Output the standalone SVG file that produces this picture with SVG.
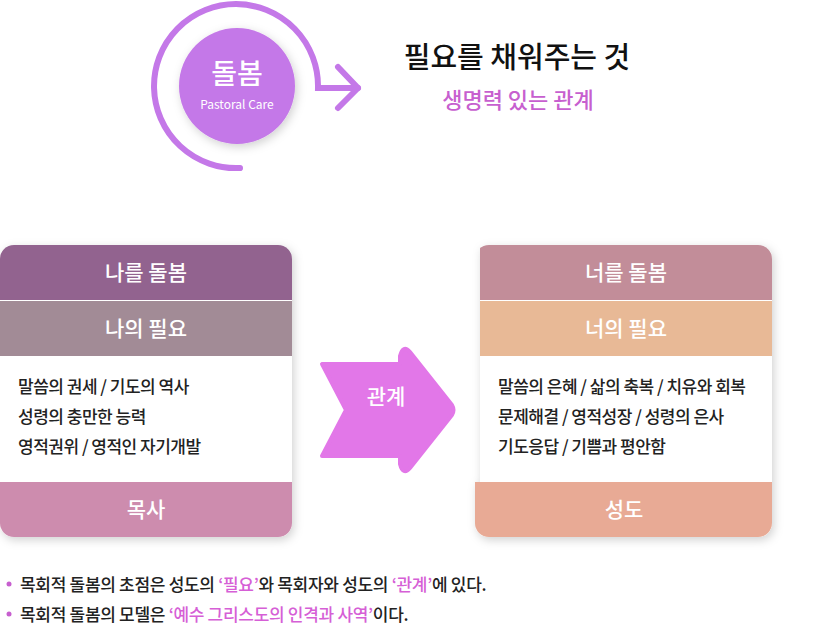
<svg xmlns="http://www.w3.org/2000/svg" width="813" height="628" viewBox="0 0 813 628">
<style>
text{font-family:"Noto Sans CJK KR","Noto Sans",sans-serif}
.h{fill:#fff;font-size:21px;font-weight:500;text-anchor:middle}
.b{fill:#222;font-size:17px;font-weight:500;letter-spacing:-0.5px}
.f{fill:#222;font-size:17px;font-weight:500;letter-spacing:-0.3px}
.p{fill:#d65fd6}
</style>
<defs>
<filter id="sh" x="-10%" y="-10%" width="120%" height="120%"><feDropShadow dx="2" dy="3" stdDeviation="5" flood-opacity="0.18"/></filter>
<clipPath id="cl"><rect x="0" y="245" width="292" height="292" rx="14"/></clipPath>
<clipPath id="cr"><rect x="475" y="245" width="297" height="292" rx="14"/></clipPath>
</defs>
<g id="care">
<path d="M240,168 A82,82 0 1,1 318,88 L358,88" fill="none" stroke="#c478e8" stroke-width="6" stroke-linecap="round"/>
<path d="M338,67 L358,88 L338,108" fill="none" stroke="#c478e8" stroke-width="6" stroke-linecap="round" stroke-linejoin="round"/>
<circle cx="237" cy="86" r="58" fill="#c478e8" filter="url(#sh)"/>
<text x="237" y="84" class="h" style="font-size:28px">돌봄</text>
<text x="237" y="109" style="fill:#fff;font-size:12px;text-anchor:middle">Pastoral Care</text>
</g>
<g id="title">
<text x="517" y="68" style="font-size:29px;font-weight:500;fill:#111;text-anchor:middle">필요를 채워주는 것</text>
<text x="518" y="108" style="font-size:22px;font-weight:500;fill:#c75fcf;text-anchor:middle">생명력 있는 관계</text>
</g>
<g id="left" filter="url(#sh)">
<g clip-path="url(#cl)">
<rect x="0" y="245" width="292" height="292" fill="#fff"/>
<rect x="0" y="245" width="292" height="55" fill="#92648f"/>
<rect x="0" y="301" width="292" height="55" fill="#a28b96"/>
<rect x="0" y="482" width="292" height="55" fill="#cd8cae"/>
</g>
</g>
<text x="146" y="280" class="h">나를 돌봄</text>
<text x="146" y="336" class="h">나의 필요</text>
<text x="18" y="393" class="b">말씀의 권세 / 기도의 역사</text>
<text x="18" y="423" class="b">성령의 충만한 능력</text>
<text x="18" y="453" class="b">영적권위 / 영적인 자기개발</text>
<text x="146" y="517" class="h">목사</text>
<g id="right" filter="url(#sh)">
<g clip-path="url(#cr)">
<rect x="480" y="245" width="292" height="292" fill="#fff"/>
<rect x="480" y="245" width="292" height="55" fill="#c28d99"/>
<rect x="480" y="301" width="292" height="55" fill="#e8b996"/>
<rect x="475" y="482" width="297" height="55" fill="#e8aa95"/>
</g>
</g>
<text x="626" y="280" class="h">너를 돌봄</text>
<text x="626" y="336" class="h">너의 필요</text>
<text x="498" y="393" class="b">말씀의 은혜 / 삶의 축복 / 치유와 회복</text>
<text x="498" y="423" class="b">문제해결 / 영적성장 / 성령의 은사</text>
<text x="498" y="453" class="b">기도응답 / 기쁨과 평안함</text>
<text x="624" y="517" class="h">성도</text>
<g id="connectors">
<path d="M322,364 L400,364 L400,356 Q403,344 410,352 L452,405 Q455,410 452,415 L410,468 Q403,476 400,464 L400,456 L322,456 L346,410 Z" fill="#e277e8" stroke="#e277e8" stroke-width="4" stroke-linejoin="round"/>
<text x="386" y="404" class="h">관계</text>
</g>
<g id="notes">
<circle cx="9" cy="584" r="2.5" fill="#c75fcf"/>
<text x="20" y="591" class="f">목회적 돌봄의 초점은 성도의 <tspan class="p">‘필요’</tspan>와 목회자와 성도의 <tspan class="p">‘관계’</tspan>에 있다.</text>
<circle cx="9" cy="614" r="2.5" fill="#c75fcf"/>
<text x="20" y="621" class="f">목회적 돌봄의 모델은 <tspan class="p">‘예수 그리스도의 인격과 사역’</tspan>이다.</text>
</g>
</svg>
